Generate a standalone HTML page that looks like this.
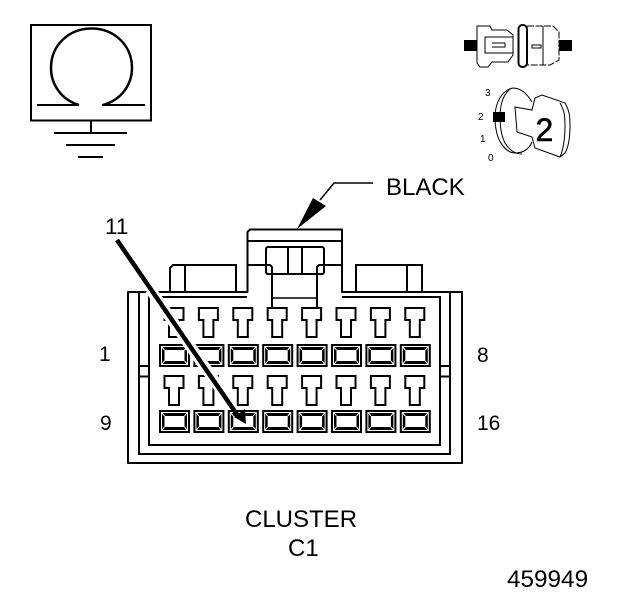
<!DOCTYPE html>
<html><head><meta charset="utf-8"><style>
html,body{margin:0;padding:0;background:#fff}
svg{display:block}
text{font-family:"Liberation Sans",sans-serif;fill:#000}
</style></head><body>
<svg width="624" height="600" viewBox="0 0 624 600" xmlns="http://www.w3.org/2000/svg">
<defs>
<g id="t"><path d="M-9.5 0H9.5V12H5V29H-5V12H-9.5Z" fill="#fff" stroke="#000" stroke-width="2"/></g>
<g id="s"><rect x="0" y="0" width="31" height="23" fill="#000"/><rect x="2.5" y="2.5" width="26" height="18" fill="#000" stroke="#fff" stroke-width="1"/><rect x="5.500" y="6" width="20" height="11" fill="#fff"/><path d="M3 3L5.500 6M28 3L25.500 6M3 20L5.500 17M28 20L25.500 17" stroke="#fff" stroke-width="1"/></g>
</defs>
<rect width="624" height="600" fill="#fff"/>

<!-- ground symbol -->
<g fill="none" stroke="#000">
<rect x="31" y="25" width="120" height="95.5" stroke-width="2"/>
<path d="M79 105C62 100 51 85 51 68C51 45 69 28.500 91.500 28.500C114 28.500 132 45 132 68C132 85 121 100 103 105" stroke-width="2.500"/>
<path d="M37 105H79M102 105H145M54 133H127M66 145H115M78 157H103" stroke-width="2"/>
<path d="M91 120V133" stroke-width="2"/>
</g>

<!-- top right: connector icon -->
<g fill="none" stroke="#000" stroke-width="1">
<rect x="464" y="40" width="13" height="11" fill="#000" stroke="none"/>
<rect x="559" y="40" width="13" height="11" fill="#000" stroke="none"/>
<path d="M477 26H490L492 30H507L513 35V55L508 62H492L488 67H480L477 63Z"/>
<path d="M513 37H485V53H513M492 43H505V47H492"/>
<rect x="518.500" y="25" width="8.500" height="42" rx="4" stroke-width="2"/>
<path d="M527 26H553L559 32V60L550 65H527" stroke-dasharray="7 1.500"/>
<rect x="532" y="45" width="9" height="3"/>
<path d="M543 26V65"/>
</g>

<!-- key icon -->
<g fill="none" stroke="#000" stroke-width="1">
<path d="M532 102C526 92 519 88 513 88C502 90 495 103 495 117C495 130 498 140 503 146C507 151 511 153 515 153C523 153 529 149 532 142"/>
<path d="M510 89C503 95 500 105 500 117C500 128 502 137 505 143C510 151 516 154 522 154"/>
<path d="M515 107L532 110L535 98L542 95L565 103C569 110 570 115 570 125C570 138 568 148 565 153L560 157L535 148L532 137L517 132Z"/>
<path d="M560 103C564 110 565 115 565 125C565 138 563 150 560 157"/>
<rect x="493" y="112" width="12" height="10" fill="#000" stroke="none"/>
</g>
<text x="485" y="96" font-size="10">3</text>
<text x="478" y="120" font-size="10">2</text>
<text x="480" y="142" font-size="10">1</text>
<text x="488" y="161" font-size="10">0</text>
<text x="535.500" y="141" font-size="32" stroke="#000" stroke-width="0.600">2</text>

<!-- connector body -->
<g fill="none" stroke="#000" stroke-width="2">
<path d="M128 463H462V292H342V229.500H250L247.500 232V292H128Z" stroke-linejoin="round"/>
<path d="M248 241H342"/>
<path d="M139 292V454H450V292"/>
<path d="M149 292V445H440V297H342M247 297H162"/>
<path d="M139 366H149M139 376.500H149M440 366H450M440 376.500H450"/>
<path d="M170 292V268L173 265H236V292M185 265V292"/>
<path d="M356 292V265H422V292M407 265V292"/>
<rect x="266" y="247" width="58" height="27" rx="2"/>
<path d="M288 247V274M302 247V274"/>
<path d="M247 265H270L272 267V308M342 265H319L317 267V308"/>
<path d="M272 298H317" stroke-width="1.500"/>
</g>

<!-- terminals -->
<use href="#t" x="174" y="308"/><use href="#t" x="208.400" y="308"/><use href="#t" x="242.800" y="308"/><use href="#t" x="277.200" y="308"/><use href="#t" x="311.600" y="308"/><use href="#t" x="346" y="308"/><use href="#t" x="380.400" y="308"/><use href="#t" x="414.800" y="308"/>
<use href="#t" x="174" y="376"/><use href="#t" x="208.400" y="376"/><use href="#t" x="242.800" y="376"/><use href="#t" x="277.200" y="376"/><use href="#t" x="311.600" y="376"/><use href="#t" x="346" y="376"/><use href="#t" x="380.400" y="376"/><use href="#t" x="414.800" y="376"/>
<use href="#s" x="159" y="344"/><use href="#s" x="193.400" y="344"/><use href="#s" x="227.800" y="344"/><use href="#s" x="262.200" y="344"/><use href="#s" x="296.600" y="344"/><use href="#s" x="331" y="344"/><use href="#s" x="365.400" y="344"/><use href="#s" x="399.800" y="344"/>
<use href="#s" x="159" y="410"/><use href="#s" x="193.400" y="410"/><use href="#s" x="227.800" y="410"/><use href="#s" x="262.200" y="410"/><use href="#s" x="296.600" y="410"/><use href="#s" x="331" y="410"/><use href="#s" x="365.400" y="410"/><use href="#s" x="399.800" y="410"/>

<!-- pin 11 pointer -->
<path d="M150 289L226 397" stroke="#fff" stroke-width="11" fill="none"/>
<path d="M117 240L238 416" stroke="#000" stroke-width="4.500" fill="none"/>
<path d="M234 417L245 409L246 424Z" fill="#000"/>

<!-- BLACK pointer -->
<path d="M373 183H334L320 200" stroke="#000" stroke-width="1.500" fill="none"/>
<path d="M297 229L313 198L326 206Z" fill="#000"/>

<!-- labels -->
<text x="386" y="195" font-size="24">BLACK</text>
<text x="105" y="234" font-size="22.500">11</text>
<text x="99" y="361" font-size="21">1</text>
<text x="477" y="362" font-size="21">8</text>
<text x="100" y="430" font-size="21">9</text>
<text x="477" y="430" font-size="21">16</text>
<text x="245" y="527" font-size="24">CLUSTER</text>
<text x="288" y="556" font-size="24">C1</text>
<text x="507" y="587" font-size="24.300">459949</text>
</svg>
</body></html>
